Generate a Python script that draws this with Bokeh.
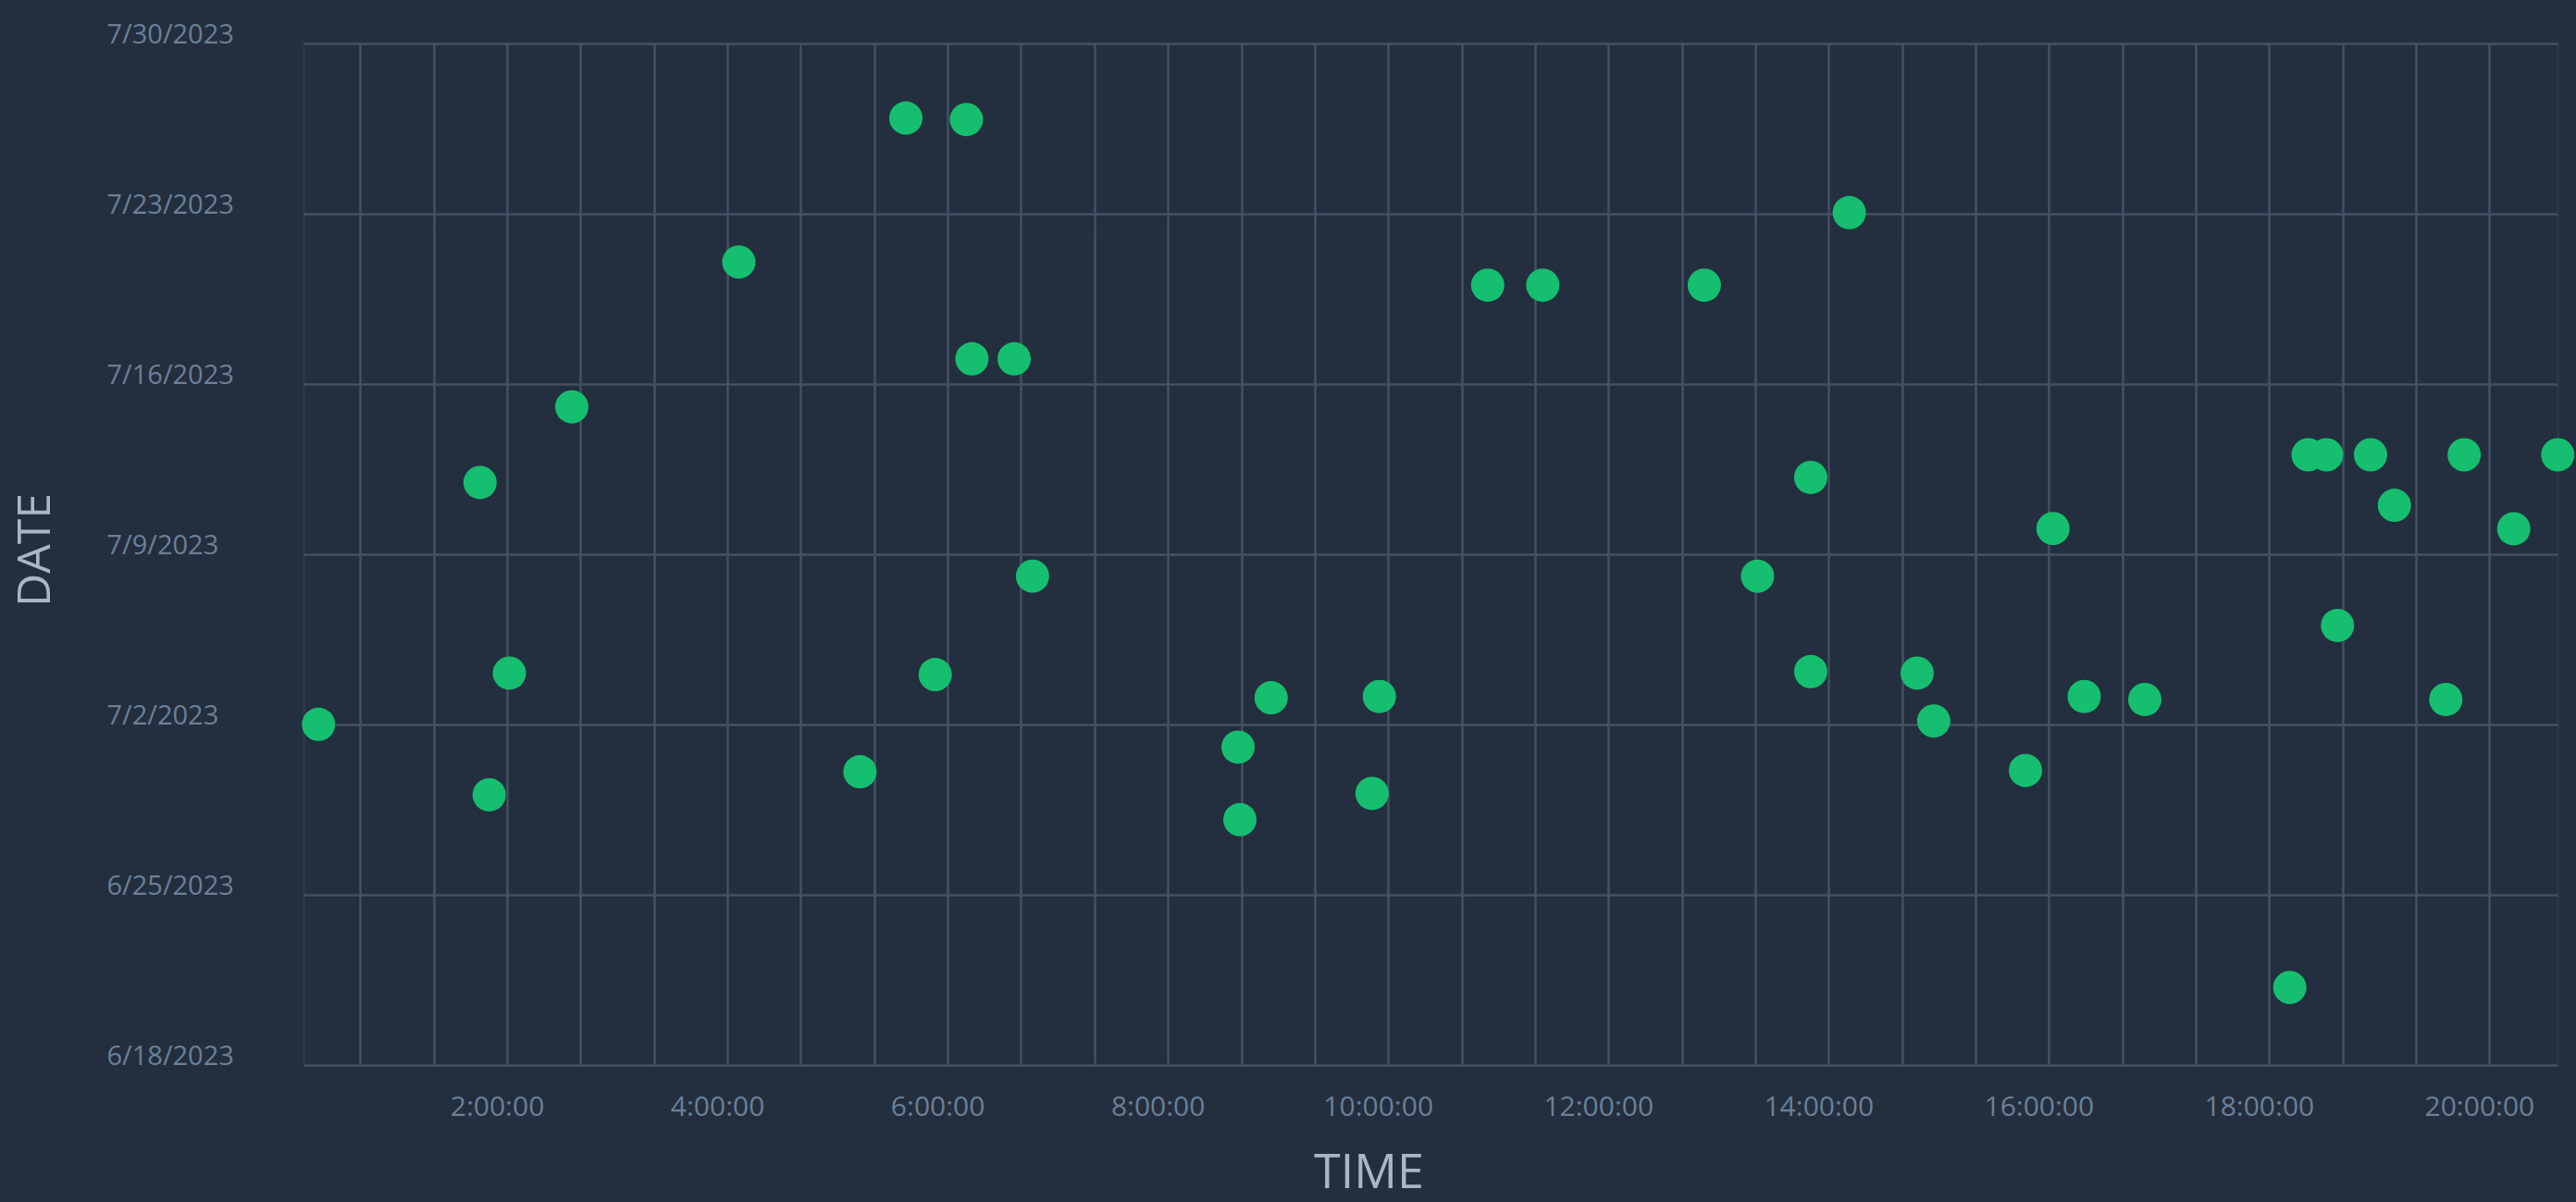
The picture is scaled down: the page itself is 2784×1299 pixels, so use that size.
import pandas as pd
from bokeh.plotting import figure
from bokeh.models import (Range1d, FixedTicker, Label, BoxAnnotation, Grid,
                          ColumnDataSource, GlobalInlineStyleSheet)
from bokeh.embed import file_html
from bokeh.resources import INLINE

# ---------------- data ----------------
times = ["0:17", "1:45", "1:50", "2:01", "2:35", "4:06", "5:12", "5:37", "6:10", "5:53",
         "6:13", "6:36", "6:46", "8:38", "8:39", "8:56", "9:51", "9:55", "10:54", "11:24",
         "12:52", "13:21", "13:50", "13:50", "14:11", "14:48", "14:57", "15:47", "16:02", "16:19",
         "16:52", "18:11", "18:21", "18:31", "18:37", "18:55", "19:08", "19:36", "19:46", "20:13",
         "20:37"]
dates = ["7/2/2023 00:30", "7/11/2023 23:00", "6/29/2023 03:00", "7/4/2023 03:00",
         "7/15/2023 01:40", "7/21/2023 00:30", "6/30/2023 01:40", "7/26/2023 22:30",
         "7/26/2023 21:00", "7/4/2023 01:30", "7/17/2023 01:00", "7/17/2023 01:00",
         "7/8/2023 02:40", "7/1/2023 02:00", "6/28/2023 02:30", "7/3/2023 02:40",
         "6/29/2023 04:20", "7/3/2023 04:00", "7/20/2023 01:40", "7/20/2023 01:40",
         "7/20/2023 01:40", "7/8/2023 02:40", "7/12/2023 04:00", "7/4/2023 04:30",
         "7/23/2023 01:10", "7/4/2023 03:00", "7/2/2023 03:50", "6/30/2023 03:00",
         "7/10/2023 01:40", "7/3/2023 04:00", "7/3/2023 01:00", "6/21/2023 05:00",
         "7/13/2023 02:20", "7/13/2023 02:20", "7/6/2023 02:00", "7/13/2023 02:20",
         "7/11/2023 00:30", "7/3/2023 01:00", "7/13/2023 02:20", "7/10/2023 01:20",
         "7/13/2023 02:20"]

x_tick_hours = [2, 4, 6, 8, 10, 12, 14, 16, 18, 20]
x_tick_labels = ["2:00:00", "4:00:00", "6:00:00", "8:00:00", "10:00:00", "12:00:00",
                 "14:00:00", "16:00:00", "18:00:00", "20:00:00"]
y_tick_dates = ["6/18/2023", "6/25/2023", "7/2/2023", "7/9/2023", "7/16/2023",
                "7/23/2023", "7/30/2023"]
x_title = "TIME"
y_title = "DATE"

# ---------------- helpers ----------------
def to_hours(s):
    h, m = s.split(":")
    return int(h) + int(m) / 60.0

def ms(d, fmt="%m/%d/%Y"):
    return pd.Timestamp(pd.to_datetime(d, format=fmt)).value / 1e6

xs = [to_hours(t) for t in times]
ys = [ms(d, "%m/%d/%Y %H:%M") for d in dates]
src = ColumnDataSource(data=dict(x=xs, y=ys))

# ---------------- style / layout ----------------
BG = "#232f3e"
GRID = "#455064"
TICK = "#6b8097"
TITLE = "#a9b6c4"
DOT = "#16be6f"
FONT = "Open Sans"

W, H = 2784, 1299
# plot box (page pixels): left 328, right 2764, top 46.5, bottom 1151
px_per_hour = 119.02
zero_hour_px = 310.0
box_left_px, box_right_px = 328.0, 2764.0
box_top_px, box_bottom_px = 46.5, 1151.0

vis_x0 = (box_left_px - zero_hour_px) / px_per_hour
vis_x1 = (box_right_px - zero_hour_px) / px_per_hour
x0 = (0 - zero_hour_px) / px_per_hour
x1 = (W - zero_hour_px) / px_per_hour

y_lo, y_hi = ms(y_tick_dates[0]), ms(y_tick_dates[-1])
px_per_ms = (box_bottom_px - box_top_px) / (y_hi - y_lo)
y_top = y_hi + box_top_px / px_per_ms
y_bot = y_lo - (H - box_bottom_px) / px_per_ms

p = figure(width=W, height=H, output_backend="svg", toolbar_location=None, title=None,
           x_range=Range1d(x0, x1), y_range=Range1d(y_bot, y_top),
           x_axis_location=None, y_axis_location=None,
           min_border=0, min_border_left=0, min_border_right=0,
           min_border_top=0, min_border_bottom=0,
           background_fill_color=BG, border_fill_color=BG, outline_line_color=None)

p.stylesheets = [GlobalInlineStyleSheet(
    css="html, body { background-color: #232f3e; overflow: hidden; }")]

for g in p.grid:
    g.visible = False

# grid lines
xgrid = Grid(dimension=0, ticker=FixedTicker(ticks=[k * 2.0 / 3.0 for k in range(1, 31)]),
             grid_line_color=GRID, grid_line_width=2.5, cross_bounds=(y_lo, y_hi))
ygrid = Grid(dimension=1, ticker=FixedTicker(ticks=[ms(d) for d in y_tick_dates]),
             grid_line_color=GRID, grid_line_width=2.5, cross_bounds=(vis_x0, vis_x1))
p.add_layout(xgrid)
p.add_layout(ygrid)

# plot box
p.add_layout(BoxAnnotation(left=vis_x0, right=vis_x1, bottom=y_lo, top=y_hi,
                           fill_alpha=0, line_color=GRID, line_width=2.5, level="underlay"))

# points
p.scatter(x="x", y="y", source=src, size=36, fill_color=DOT, line_color=None)

# x tick labels (centre ~1194 px from top, ~11 px left of the grid line)
for h, lab in zip(x_tick_hours, x_tick_labels):
    p.add_layout(Label(x=h, x_units="data", y=H - 1194, y_units="screen", x_offset=-11,
                       text=lab, text_align="center", text_baseline="middle",
                       text_font=FONT, text_font_size="30px", text_color=TICK))

# y tick labels (left aligned at x=115, sitting just above their grid line)
lift = 12.0 / px_per_ms
for d in y_tick_dates:
    p.add_layout(Label(x=115, x_units="screen", y=ms(d) + lift, y_units="data",
                       text=d, text_align="left", text_baseline="middle",
                       text_font=FONT, text_font_size="29px", text_color=TICK))

# axis titles
p.add_layout(Label(x=1479, y=H - 1263, x_units="screen", y_units="screen", text=x_title,
                   text_align="center", text_baseline="middle",
                   text_font=FONT, text_font_size="52px", text_color=TITLE))
p.add_layout(Label(x=34, y=H - 594, x_units="screen", y_units="screen", text=y_title,
                   angle=90, angle_units="deg", text_align="center", text_baseline="middle",
                   text_font=FONT, text_font_size="50px", text_color=TITLE))

open("out.html", "w").write(file_html(p, INLINE))
